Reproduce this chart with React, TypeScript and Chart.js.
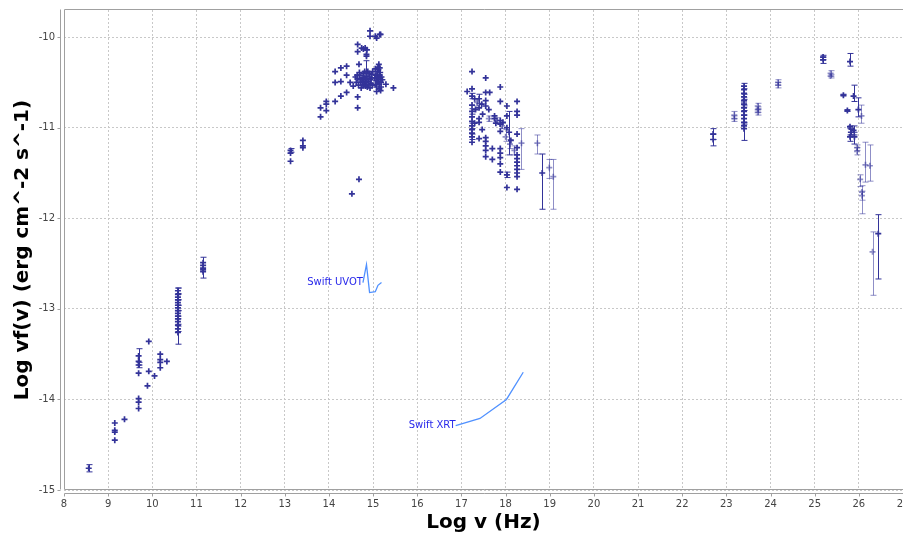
import { useEffect, useRef } from 'react';
import { Chart, registerables } from 'chart.js';

Chart.register(...registerables);

// [log nu, log nuFnu, error below, error above]
type Pt = [number, number, number?, number?];

const X_MIN = 8;
const X_MAX = 27;
const Y_MIN = -15;
const Y_MAX = -9.7;

const radioPoints: Pt[] = [
  [8.56, -14.76, 0.04, 0.04],
  [9.15, -14.26], [9.15, -14.34], [9.15, -14.36], [9.15, -14.45],
  [9.37, -14.22],
  [9.69, -13.52, 0.1, 0.08], [9.69, -13.58], [9.69, -13.62, 0.03, 0.03], [9.69, -13.71],
  [9.69, -13.99], [9.69, -14.03], [9.69, -14.1],
  [9.89, -13.85], [9.92, -13.36], [9.92, -13.69],
  [10.05, -13.74],
  [10.18, -13.5], [10.18, -13.56], [10.18, -13.59], [10.18, -13.65],
  [10.33, -13.58],
];

const submmPoints: Pt[] = [
  [10.58, -13.08, 0.31, 0.31],
  [10.58, -12.8, 0.03, 0.03], [10.58, -12.84], [10.58, -12.87, 0.03, 0.03], [10.58, -12.9],
  [10.58, -12.93, 0.03, 0.03], [10.58, -12.96], [10.58, -12.99, 0.03, 0.03], [10.58, -13.02],
  [10.58, -13.05, 0.03, 0.03], [10.58, -13.11], [10.58, -13.14, 0.03, 0.03], [10.58, -13.18],
  [10.58, -13.22, 0.03, 0.03], [10.58, -13.26],
  [11.15, -12.55, 0.11, 0.12], [11.15, -12.49], [11.15, -12.52], [11.15, -12.57], [11.15, -12.59],
];

const opticalPoints: Pt[] = [
  [13.13, -11.25, 0.02, 0.02], [13.13, -11.28], [13.13, -11.37],
  [13.41, -11.14], [13.41, -11.2], [13.41, -11.22],
  [13.81, -10.78], [13.81, -10.88],
  [13.94, -10.71], [13.94, -10.74], [13.94, -10.81],
  [14.14, -10.38], [14.14, -10.5], [14.14, -10.71],
  [14.27, -10.34], [14.27, -10.49], [14.27, -10.65],
  [14.4, -10.32], [14.4, -10.42], [14.4, -10.61],
  [14.52, -11.73], [14.48, -10.5], [14.55, -10.54],
  [14.65, -10.08], [14.65, -10.16], [14.65, -10.66], [14.65, -10.78],
  [14.68, -11.57], [14.68, -10.3],
  [14.74, -10.12], [14.78, -10.13], [14.82, -10.12], [14.86, -10.14],
  [14.85, -10.19], [14.85, -10.21],
  [14.93, -9.93], [14.93, -9.99],
  [15.05, -9.99], [15.08, -10.01], [15.15, -9.97], [15.17, -9.97],
  [14.6, -10.44], [14.65, -10.46], [14.7, -10.42], [14.72, -10.5], [14.75, -10.45],
  [14.78, -10.4], [14.8, -10.52], [14.82, -10.47], [14.85, -10.43], [14.87, -10.55],
  [14.88, -10.38], [14.9, -10.49], [14.92, -10.44], [14.95, -10.51], [14.97, -10.41],
  [14.62, -10.5], [14.67, -10.53], [14.69, -10.39], [14.73, -10.56], [14.76, -10.49],
  [14.79, -10.45], [14.81, -10.38], [14.83, -10.54], [14.84, -10.5], [14.86, -10.46],
  [14.89, -10.52], [14.91, -10.4], [14.93, -10.56], [14.94, -10.47], [14.96, -10.45],
  [14.98, -10.53], [14.99, -10.38], [14.77, -10.53], [14.71, -10.47], [14.64, -10.42],
  [14.85, -10.4, 0.16, 0.14],
  [15.05, -10.35], [15.06, -10.42], [15.07, -10.48], [15.08, -10.55], [15.1, -10.38],
  [15.11, -10.45], [15.12, -10.5], [15.13, -10.3], [15.14, -10.57], [15.15, -10.42],
  [15.16, -10.47], [15.17, -10.59], [15.29, -10.52], [15.46, -10.56],
  [15.04, -10.45], [15.06, -10.52], [15.09, -10.41], [15.1, -10.5], [15.12, -10.36],
  [15.13, -10.44], [15.14, -10.52], [15.16, -10.39], [15.18, -10.5], [15.19, -10.44],
  [15.11, -10.33], [15.15, -10.34], [15.18, -10.55], [15.08, -10.6], [15.21, -10.47],
];

const xrayPoints: Pt[] = [
  [17.13, -10.6],
  [17.24, -10.38], [17.24, -10.57], [17.24, -10.65, 0.03, 0.03], [17.24, -10.75],
  [17.24, -10.82, 0.03, 0.03], [17.24, -10.88], [17.24, -10.93], [17.24, -10.98, 0.03, 0.03],
  [17.24, -11.02], [17.24, -11.06], [17.24, -11.1, 0.03, 0.03], [17.24, -11.16],
  [17.3, -10.68], [17.32, -10.8], [17.3, -10.95],
  [17.4, -10.68, 0.05, 0.05], [17.4, -10.78], [17.4, -10.9], [17.4, -10.94], [17.4, -11.12],
  [17.46, -10.74], [17.48, -10.85], [17.47, -11.02],
  [17.55, -10.45], [17.55, -10.61], [17.55, -10.7], [17.55, -10.76], [17.55, -11.11],
  [17.55, -11.15], [17.55, -11.2], [17.55, -11.25], [17.55, -11.32],
  [17.64, -10.61], [17.62, -10.8],
  [17.7, -11.23], [17.7, -11.35],
  [17.75, -10.87], [17.75, -10.9], [17.78, -10.95],
  [17.88, -10.55], [17.88, -10.71], [17.88, -10.92], [17.88, -10.96], [17.88, -11.04],
  [17.88, -11.23], [17.88, -11.28], [17.88, -11.33], [17.88, -11.4], [17.88, -11.49],
  [17.94, -10.94],
  [18.03, -10.76], [18.03, -10.87], [18.03, -11.0], [18.03, -11.52, 0.03, 0.03], [18.03, -11.66],
  [18.08, -11.05, 0.25, 0.23],
  [18.12, -11.14],
  [18.26, -10.71], [18.26, -10.82], [18.26, -10.86], [18.26, -11.07], [18.26, -11.22],
  [18.26, -11.3], [18.26, -11.34], [18.26, -11.38], [18.26, -11.42], [18.26, -11.46],
  [18.26, -11.5], [18.26, -11.54], [18.26, -11.68],
  [18.83, -11.5, 0.4, 0.21],
];

const xrayFaint: Pt[] = [
  [17.35, -10.72, 0.04, 0.04], [17.62, -10.9, 0.03, 0.03], [17.8, -10.92, 0.03, 0.03],
  [17.92, -10.98, 0.03, 0.03], [18.0, -11.1, 0.05, 0.08], [18.1, -11.18, 0.05, 0.05],
  [18.2, -11.25, 0.05, 0.05],
  [18.36, -11.17, 0.29, 0.16],
  [18.72, -11.17, 0.12, 0.09],
  [18.99, -11.44, 0.12, 0.09],
  [19.08, -11.54, 0.36, 0.19],
];

const gammaPoints: Pt[] = [
  [22.7, -11.07, 0.06, 0.06], [22.7, -11.13, 0.07, 0.06],
  [23.4, -10.54, 0.03, 0.03], [23.4, -10.58], [23.4, -10.62], [23.4, -10.66, 0.03, 0.03],
  [23.4, -10.7], [23.4, -10.74], [23.4, -10.78, 0.03, 0.03], [23.4, -10.82], [23.4, -10.86],
  [23.4, -10.9, 0.04, 0.04], [23.4, -10.94], [23.4, -10.98], [23.4, -11.01, 0.13, 0.05],
  [25.19, -10.22, 0.03, 0.02], [25.19, -10.25, 0.04, 0.03],
  [25.65, -10.64, 0.01, 0.01],
  [25.74, -10.81, 0.01, 0.01],
  [25.8, -10.27, 0.05, 0.09],
  [25.8, -10.99, 0.02, 0.01], [25.82, -11.05, 0.03, 0.03], [25.8, -11.1, 0.05, 0.02],
  [25.88, -10.65, 0.06, 0.12],
  [25.88, -11.03, 0.05, 0.05], [25.9, -11.1, 0.08, 0.05],
  [25.99, -10.8, 0.08, 0.13],
  [26.44, -12.17, 0.5, 0.21],
];

const gammaFaint: Pt[] = [
  [23.18, -10.86, 0.04, 0.04], [23.18, -10.9, 0.03, 0.03],
  [23.4, -10.72, 0.05, 0.05],
  [23.71, -10.76, 0.03, 0.03], [23.71, -10.8, 0.03, 0.03], [23.71, -10.83, 0.03, 0.03],
  [24.17, -10.5, 0.03, 0.03], [24.17, -10.53, 0.03, 0.03],
  [25.36, -10.4, 0.03, 0.03], [25.36, -10.43, 0.02, 0.02],
  [25.96, -11.22, 0.03, 0.03], [25.96, -11.26, 0.04, 0.04],
  [26.06, -10.87, 0.08, 0.12],
  [26.03, -11.57, 0.08, 0.05],
  [26.07, -11.71, 0.24, 0.07], [26.07, -11.75, 0.05, 0.05],
  [26.15, -11.41, 0.19, 0.25],
  [26.25, -11.42, 0.17, 0.23],
  [26.31, -12.37, 0.48, 0.22],
];

// Swift instrument sensitivity curves
const uvotX = [14.77, 14.85, 14.92, 15.05, 15.11, 15.19];
const uvotY = [-12.71, -12.51, -12.82, -12.81, -12.74, -12.71];
const xrtX = [16.87, 17.42, 18.02, 18.4];
const xrtY = [-14.29, -14.21, -14.0, -13.7];

const DARK = 'rgb(51,51,153)';
const FAINT = 'rgba(51,51,153,0.55)';
const CURVE = 'rgb(80,145,255)';
const CURVE_TEXT = 'rgb(40,40,235)';
const FONT = 'DejaVu Sans';

const toData = (pts: Pt[]) =>
  pts.map(([x, y, lo, hi]) => ({ x, y, lo: lo || 0, hi: hi || 0 }));

const pointSet = (pts: Pt[], color: string) => ({
  type: 'scatter' as const,
  data: toData(pts),
  borderColor: color,
  backgroundColor: color,
  pointStyle: 'cross',
  pointRadius: 3,
  pointBorderWidth: 1.7,
  showLine: false,
  errorBars: true,
});

const curveSet = (xs: number[], ys: number[], label: string) => ({
  type: 'line' as const,
  label,
  data: xs.map((x, i) => ({ x, y: ys[i] })),
  borderColor: CURVE,
  borderWidth: 1.3,
  pointRadius: 0,
  fill: false,
  tension: 0,
  curveLabel: label,
});

const errorBarPlugin = {
  id: 'errorBars',
  afterDatasetsDraw(chart: any) {
    const { ctx, chartArea, scales } = chart;
    const xs = scales.x;
    const ys = scales.y;
    ctx.save();
    ctx.beginPath();
    ctx.rect(chartArea.left, chartArea.top, chartArea.right - chartArea.left, chartArea.bottom - chartArea.top);
    ctx.clip();
    ctx.lineWidth = 1;
    chart.data.datasets.forEach((ds: any) => {
      if (!ds.errorBars) return;
      ctx.strokeStyle = ds.borderColor;
      ds.data.forEach((p: any) => {
        if (!p.lo && !p.hi) return;
        const px = Math.round(xs.getPixelForValue(p.x)) + 0.5;
        const top = ys.getPixelForValue(p.y + p.hi);
        const bot = ys.getPixelForValue(p.y - p.lo);
        ctx.beginPath();
        ctx.moveTo(px, top);
        ctx.lineTo(px, bot);
        ctx.moveTo(px - 3, top);
        ctx.lineTo(px + 3, top);
        ctx.moveTo(px - 3, bot);
        ctx.lineTo(px + 3, bot);
        ctx.stroke();
      });
    });
    ctx.restore();
  },
};

const curveLabelPlugin = {
  id: 'curveLabels',
  afterDatasetsDraw(chart: any) {
    const { ctx, scales } = chart;
    ctx.save();
    ctx.font = `10px "${FONT}"`;
    ctx.fillStyle = CURVE_TEXT;
    ctx.textAlign = 'right';
    ctx.textBaseline = 'middle';
    chart.data.datasets.forEach((ds: any) => {
      if (!ds.curveLabel) return;
      const first = ds.data[0];
      ctx.fillText(ds.curveLabel, scales.x.getPixelForValue(first.x), scales.y.getPixelForValue(first.y));
    });
    ctx.restore();
  },
};

const framePlugin = {
  id: 'plotFrame',
  beforeDatasetsDraw(chart: any) {
    const { ctx, chartArea, scales } = chart;
    const l = Math.round(chartArea.left) + 0.5;
    const t = Math.round(chartArea.top) - 0.5;
    const r = Math.round(chartArea.right) + 1;
    const b = Math.round(chartArea.bottom) - 0.5;
    ctx.save();
    ctx.strokeStyle = '#a0a0a0';
    ctx.lineWidth = 1;
    // plot outline (the right side runs past the canvas edge)
    ctx.beginPath();
    ctx.moveTo(r, t);
    ctx.lineTo(l, t);
    ctx.lineTo(l, b);
    ctx.lineTo(r, b);
    // offset axis lines with outward tick marks
    const axX = l - 4;
    const axY = b + 4;
    ctx.moveTo(axX, t);
    ctx.lineTo(axX, b);
    ctx.moveTo(l, axY);
    ctx.lineTo(r, axY);
    scales.x.ticks.forEach((tk: any) => {
      const px = Math.round(scales.x.getPixelForValue(tk.value)) + 0.5;
      ctx.moveTo(px, axY);
      ctx.lineTo(px, axY + 3);
    });
    scales.y.ticks.forEach((tk: any) => {
      const py = Math.round(scales.y.getPixelForValue(tk.value)) + 0.5;
      ctx.moveTo(axX, py);
      ctx.lineTo(axX - 3, py);
    });
    ctx.stroke();
    ctx.restore();
  },
};

export default function App() {
  const canvasRef = useRef<HTMLCanvasElement | null>(null);

  useEffect(() => {
    const canvas = canvasRef.current;
    if (!canvas) return;
    const tickFont = { family: FONT, size: 10 };
    const titleFont = { family: FONT, size: 20, weight: 'bold' as const, lineHeight: 1 };
    const chart = new Chart(canvas, {
      type: 'scatter',
      data: {
        datasets: [
          pointSet(xrayFaint, FAINT),
          pointSet(gammaFaint, FAINT),
          pointSet(radioPoints, DARK),
          pointSet(submmPoints, DARK),
          pointSet(opticalPoints, DARK),
          pointSet(xrayPoints, DARK),
          pointSet(gammaPoints, DARK),
          curveSet(uvotX, uvotY, 'Swift UVOT'),
          curveSet(xrtX, xrtY, 'Swift XRT'),
        ] as any,
      },
      options: {
        animation: false,
        responsive: false,
        maintainAspectRatio: false,
        devicePixelRatio: 1,
        layout: { autoPadding: false, padding: { top: 10, right: 0, bottom: 0, left: 0 } },
        plugins: { legend: { display: false }, tooltip: { enabled: false } },
        scales: {
          x: {
            type: 'linear',
            min: X_MIN,
            max: X_MAX,
            ticks: {
              stepSize: 1,
              autoSkip: false,
              maxRotation: 0,
              font: tickFont,
              color: '#444',
              padding: 8,
            },
            grid: { color: '#c8c8c8', drawTicks: false, lineWidth: 1 },
            border: { display: false, dash: [2, 2] },
            title: {
              display: true,
              text: 'Log v (Hz)',
              font: titleFont,
              color: '#000',
              padding: { top: 0, bottom: 0 },
            },
            afterFit(scale: any) {
              scale.height = 43;
              scale.paddingLeft = 0;
              scale.paddingRight = 0;
            },
          },
          y: {
            type: 'linear',
            min: Y_MIN,
            max: Y_MAX,
            ticks: {
              stepSize: 1,
              includeBounds: false,
              font: tickFont,
              color: '#444',
              padding: 9,
            },
            grid: { color: '#c8c8c8', drawTicks: false, lineWidth: 1 },
            border: { display: false, dash: [2, 2] },
            title: {
              display: true,
              text: 'Log vf(v) (erg cm^-2 s^-1)',
              font: titleFont,
              color: '#000',
              padding: { top: 13, bottom: 0 },
            },
            afterFit(scale: any) {
              scale.width = 64;
              scale.paddingTop = 0;
              scale.paddingBottom = 0;
            },
          },
        },
      } as any,
      plugins: [framePlugin, errorBarPlugin, curveLabelPlugin],
    });
    return () => chart.destroy();
  }, []);

  return (
    <div style={{ position: 'absolute', left: 0, top: 0, width: 903, height: 533, background: '#fff' }}>
      <canvas ref={canvasRef} width={903} height={533} style={{ display: 'block', width: 903, height: 533 }} />
    </div>
  );
}
